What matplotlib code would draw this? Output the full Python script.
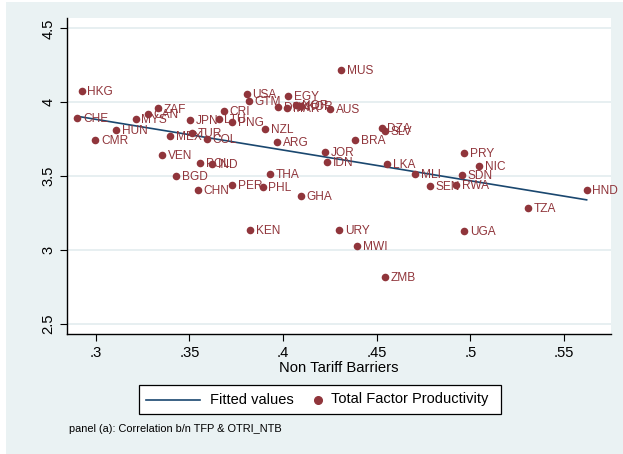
import numpy as np
import matplotlib.pyplot as plt
from matplotlib.patches import Rectangle
from matplotlib.lines import Line2D

plt.rcParams['font.family'] = ['Liberation Sans', 'DejaVu Sans']

# country codes, non tariff barriers (x), total factor productivity (y)
countries = ["HKG", "CHE", "HUN", "CMR", "MYS", "CAN", "ZAF", "JPN", "TUR", "MEX",
             "COL", "LTU", "CRI", "PNG", "VEN", "POL", "IND", "BGD", "CHN", "PER",
             "USA", "GTM", "EGY", "MUS", "DNK", "MAR", "NOR", "KOR", "AUS", "NZL",
             "ARG", "BRA", "JOR", "IDN", "THA", "PHL", "GHA", "LKA", "DZA", "SLV",
             "PRY", "NIC", "SDN", "MLI", "SEN", "RWA", "HND", "TZA", "UGA", "KEN",
             "URY", "MWI", "ZMB"]
ntb = [0.2925, 0.2902, 0.3108, 0.2998, 0.3213, 0.3277, 0.3331, 0.3503, 0.3514, 0.3395,
       0.3592, 0.3656, 0.3685, 0.3727, 0.3354, 0.3558, 0.3621, 0.3427, 0.3546, 0.3727,
       0.3806, 0.3816, 0.4028, 0.4311, 0.3974, 0.4022, 0.4070, 0.4097, 0.4252, 0.3902,
       0.3966, 0.4385, 0.4222, 0.4234, 0.3932, 0.3891, 0.4094, 0.4553, 0.4526, 0.4544,
       0.4965, 0.5047, 0.4953, 0.4705, 0.4782, 0.4923, 0.5620, 0.5308, 0.4965, 0.3825,
       0.4300, 0.4394, 0.4545]
tfp = [4.078, 3.894, 3.811, 3.743, 3.889, 3.921, 3.959, 3.878, 3.795, 3.770,
       3.750, 3.889, 3.941, 3.865, 3.646, 3.592, 3.581, 3.504, 3.409, 3.441,
       4.054, 4.009, 4.045, 4.218, 3.966, 3.964, 3.982, 3.975, 3.955, 3.818,
       3.734, 3.747, 3.664, 3.599, 3.518, 3.430, 3.367, 3.583, 3.824, 3.808,
       3.655, 3.572, 3.507, 3.514, 3.434, 3.443, 3.407, 3.288, 3.132, 3.139,
       3.137, 3.031, 2.820]

xticks = [0.3, 0.35, 0.4, 0.45, 0.5, 0.55]
xticklabels = [".3", ".35", ".4", ".45", ".5", ".55"]
yticks = [2.5, 3, 3.5, 4, 4.5]
yticklabels = ["2.5", "3", "3.5", "4", "4.5"]

bg = "#EAF2F3"
dot_col = "#90353B"
line_col = "#1A476F"

W, H = 623, 454
fig = plt.figure(figsize=(6.23, 4.54), dpi=100)
fig.patch.set_facecolor("white")
fig.patches.append(Rectangle((6 / W, 0), 617 / W, 452 / H, transform=fig.transFigure,
                             facecolor=bg, edgecolor="none", zorder=-10))

ax = fig.add_axes([67 / W, 120 / H, 544 / W, 316 / H])
ax.set_facecolor("white")

# fitted line
x = np.array(ntb)
y = np.array(tfp)
b, a = np.polyfit(x, y, 1)
xs = np.array([x.min(), x.max()])
ax.plot(xs, a + b * xs, color=line_col, lw=1.2, zorder=2)

ax.scatter(x, y, s=30, color=dot_col, zorder=3, linewidths=0)
for c, xi, yi in zip(countries, x, y):
    ax.annotate(c, (xi, yi), xytext=(4.2, -0.8), textcoords="offset points",
                ha="left", va="center", fontsize=8.6, color=dot_col, zorder=4)

ax.set_xlim(0.2847, 0.575)
ax.set_ylim(2.434, 4.57)
ax.set_xticks(xticks)
ax.set_xticklabels(xticklabels)
ax.set_yticks(yticks)
ax.set_yticklabels(yticklabels, rotation=90, va="center")
ax.tick_params(labelsize=10.6, length=5, width=0.8, color="black")
ax.grid(axis="y", color="#E3ECEF", lw=1.2)
ax.set_axisbelow(True)
for s in ["top", "right"]:
    ax.spines[s].set_visible(False)
for s in ["left", "bottom"]:
    ax.spines[s].set_linewidth(1)
ax.set_xlabel("Non Tariff Barriers", fontsize=10.6, labelpad=1)

# legend box drawn by hand (Stata style)
ly = 1 - 399.5 / H
fig.patches.append(Rectangle((139 / W, 1 - 414 / H), 362 / W, 29 / H, transform=fig.transFigure,
                             facecolor="white", edgecolor="black", lw=0.9))
fig.lines.append(Line2D([146 / W, 200 / W], [ly, ly], transform=fig.transFigure,
                        color=line_col, lw=1.2))
fig.text(210 / W, ly, "Fitted values", fontsize=10.5, va="center", ha="left")
fig.lines.append(Line2D([318 / W], [ly], transform=fig.transFigure, marker="o",
                        ls="none", color=dot_col, markersize=5.5))
fig.text(331 / W, ly, "Total Factor Productivity", fontsize=10.5, va="center", ha="left")

fig.text(69 / W, 1 - 429 / H, "panel (a): Correlation b/n TFP & OTRI_NTB",
         fontsize=7.9, va="center", ha="left")

fig.savefig("out.png", dpi=100)
